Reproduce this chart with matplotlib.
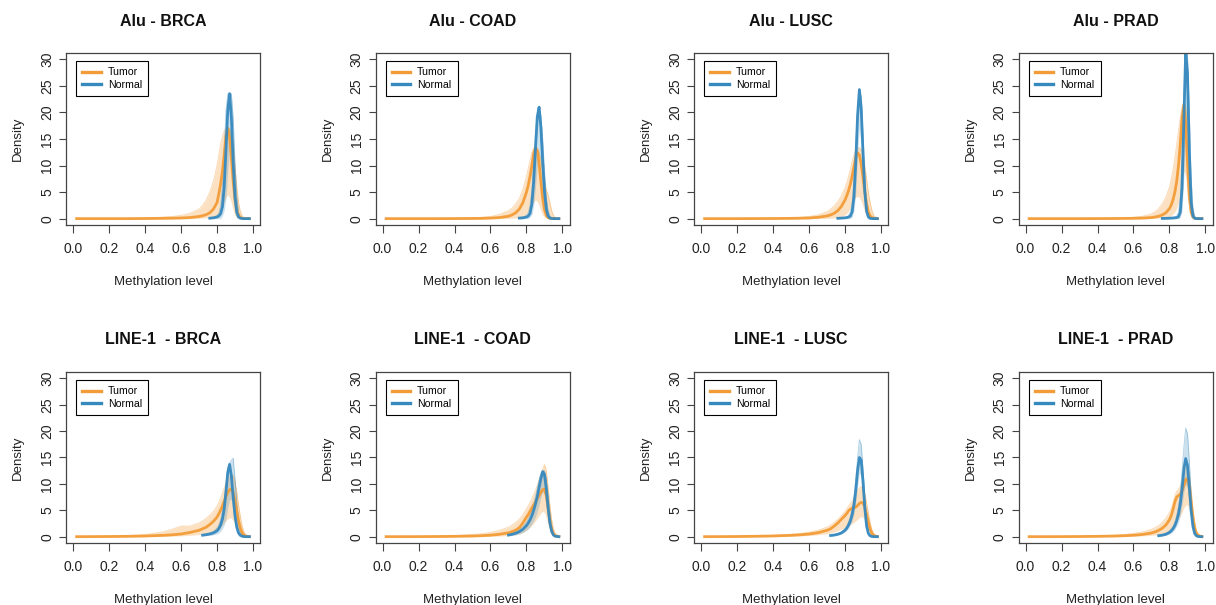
import numpy as np
import matplotlib
matplotlib.use("Agg")
import matplotlib.pyplot as plt

plt.rcParams['font.family'] = ['Liberation Sans', 'DejaVu Sans']

# ---------------- data ----------------
GRID = [0.02, 0.10, 0.20, 0.30, 0.40, 0.50, 0.55, 0.60, 0.65,
        0.70, 0.72, 0.74, 0.76, 0.78,
        0.80, 0.81, 0.82, 0.83, 0.84, 0.85, 0.86, 0.87, 0.88, 0.89,
        0.90, 0.91, 0.92, 0.93, 0.94, 0.95, 0.96, 0.98]

XTICKS = [0.0, 0.2, 0.4, 0.6, 0.8, 1.0]
XTICKLABELS = ["0.0", "0.2", "0.4", "0.6", "0.8", "1.0"]
YTICKS = [0, 5, 10, 15, 20, 25, 30]
YTICKLABELS = ["0", "5", "10", "15", "20", "25", "30"]

TITLES = ["Alu - BRCA", "Alu - COAD", "Alu - LUSC", "Alu - PRAD",
          "LINE-1  - BRCA", "LINE-1  - COAD", "LINE-1  - LUSC", "LINE-1  - PRAD"]
GROUPS = ["Tumor", "Normal"]

# ---- Alu - BRCA ----
ALU_BRCA_T = [0, 0, 0, 0, 0.02, 0.05, 0.08, 0.12, 0.2,
              0.4, 0.55, 0.75, 1.1, 1.8,
              3.0, 4.6, 6.5, 8.8, 12.0, 15.5, 17.0, 15.5, 11.5, 7.0,
              3.6, 1.6, 0.6, 0.2, 0.07, 0.02, 0.01, 0]
ALU_BRCA_T_HI = [0, 0, 0.01, 0.02, 0.1, 0.3, 0.4, 0.6, 1.0,
                 1.8, 2.5, 3.5, 5.0, 7.0,
                 10.0, 12.0, 14.0, 15.5, 16.5, 17.0, 17.2, 17.0, 16.0, 14.0,
                 10.0, 6.0, 3.0, 1.3, 0.5, 0.2, 0.1, 0]
ALU_BRCA_T_LO = [0, 0, 0, 0, 0, 0, 0, 0, 0,
                 0.05, 0.1, 0.15, 0.2, 0.3,
                 0.5, 0.8, 1.2, 2.0, 3.0, 4.0, 4.5, 4.0, 3.0, 1.5,
                 0.6, 0.2, 0.05, 0, 0, 0, 0, 0]
ALU_BRCA_N = [None] * 12 + [
              0.08, 0.15,
              0.3, 0.5, 0.9, 2.2, 6.0, 13.0, 20.5, 23.5, 19.0, 10.5,
              4.2, 1.2, 0.3, 0.08, 0.02, 0, 0, 0]
ALU_BRCA_N_HI = [None] * 12 + [
                 0.12, 0.25,
                 0.6, 1.0, 2.4, 6.0, 13.0, 20.5, 23.5, 23.8, 23.5, 19.0,
                 10.5, 4.2, 1.2, 0.3, 0.08, 0.02, 0, 0]
ALU_BRCA_N_LO = [None] * 12 + [
                 0, 0,
                 0, 0, 0, 0.5, 1.5, 4.0, 9.0, 13.0, 9.0, 3.5,
                 1.0, 0.2, 0, 0, 0, 0, 0, 0]

# ---- Alu - COAD ----
ALU_COAD_T = [0, 0, 0, 0, 0.01, 0.03, 0.05, 0.1, 0.2,
              0.45, 0.7, 1.1, 1.8, 3.0,
              5.0, 6.3, 8.0, 10.0, 12.3, 13.3, 12.8, 10.5, 7.0, 3.8,
              1.7, 0.6, 0.2, 0.06, 0.02, 0, 0, 0]
ALU_COAD_T_HI = [0, 0, 0.01, 0.02, 0.05, 0.15, 0.25, 0.4, 0.8,
                 1.5, 2.0, 2.8, 3.8, 5.5,
                 8.0, 9.5, 11.0, 12.5, 13.3, 13.5, 13.3, 12.5, 11.0, 9.0,
                 7.0, 5.5, 4.5, 3.0, 1.5, 0.6, 0.2, 0]
ALU_COAD_T_LO = [0, 0, 0, 0, 0, 0, 0, 0, 0,
                 0.05, 0.08, 0.12, 0.2, 0.3,
                 0.8, 1.2, 1.8, 2.5, 3.2, 3.5, 3.2, 2.5, 1.5, 0.7,
                 0.3, 0.1, 0, 0, 0, 0, 0, 0]
ALU_COAD_N = [None] * 12 + [
              0.1, 0.15,
              0.3, 0.5, 1.0, 2.8, 7.0, 13.3, 19.2, 21.0, 17.2, 10.7,
              5.1, 1.8, 0.5, 0.12, 0.03, 0, 0, 0]
ALU_COAD_N_HI = [None] * 12 + [
                 0.15, 0.3,
                 0.6, 1.1, 2.5, 5.5, 10.5, 16.0, 19.5, 21.0, 19.5, 15.0,
                 9.0, 4.0, 1.5, 0.5, 0.15, 0.05, 0, 0]
ALU_COAD_N_LO = [None] * 12 + [
                 0, 0,
                 0, 0, 0.3, 0.8, 2.5, 6.0, 10.0, 12.0, 10.0, 5.0,
                 1.8, 0.5, 0.1, 0, 0, 0, 0, 0]

# ---- Alu - LUSC ----
ALU_LUSC_T = [0, 0, 0, 0.01, 0.02, 0.05, 0.08, 0.12, 0.25,
              0.5, 0.7, 1.0, 1.5, 2.3,
              3.5, 4.3, 5.3, 6.5, 8.0, 9.8, 11.5, 12.4, 12.0, 10.3,
              7.8, 5.0, 2.8, 1.3, 0.5, 0.2, 0.06, 0]
ALU_LUSC_T_HI = [0, 0, 0.01, 0.03, 0.06, 0.15, 0.25, 0.4, 0.7,
                 1.3, 1.8, 2.4, 3.2, 4.3,
                 5.8, 6.8, 8.0, 9.3, 10.8, 12.0, 13.0, 13.4, 13.4, 13.0,
                 12.0, 10.0, 7.5, 5.0, 3.0, 1.5, 0.6, 0.1]
ALU_LUSC_T_LO = [0, 0, 0, 0, 0, 0, 0, 0, 0,
                 0.05, 0.08, 0.12, 0.2, 0.4,
                 0.7, 1.0, 1.4, 2.0, 2.8, 3.5, 4.0, 4.2, 4.0, 3.3,
                 2.3, 1.3, 0.6, 0.2, 0.05, 0, 0, 0]
ALU_LUSC_N = [None] * 12 + [
              0.06, 0.1,
              0.15, 0.2, 0.3, 0.5, 1.3, 4.2, 10.7, 19.4, 24.3, 20.9,
              12.4, 5.1, 1.4, 0.3, 0.05, 0.01, 0, 0]
ALU_LUSC_N_HI = [None] * 12 + [
                 0.08, 0.15,
                 0.25, 0.35, 0.6, 1.2, 3.0, 7.5, 14.0, 21.0, 24.5, 23.0,
                 16.0, 8.0, 3.0, 0.9, 0.2, 0.05, 0, 0]
ALU_LUSC_N_LO = [None] * 12 + [
                 0, 0,
                 0, 0, 0, 0, 0.3, 1.5, 5.0, 12.0, 17.0, 14.0,
                 6.0, 1.8, 0.4, 0.05, 0, 0, 0, 0]

# ---- Alu - PRAD ----
ALU_PRAD_T = [0, 0, 0, 0, 0.01, 0.02, 0.04, 0.06, 0.1,
              0.2, 0.3, 0.45, 0.7, 1.1,
              1.9, 2.6, 3.6, 5.0, 7.0, 10.0, 14.0, 19.0, 21.5, 18.0,
              10.5, 4.2, 1.2, 0.3, 0.06, 0.01, 0, 0]
ALU_PRAD_T_HI = [0, 0, 0.01, 0.02, 0.04, 0.1, 0.15, 0.25, 0.45,
                 0.9, 1.3, 1.9, 2.8, 4.0,
                 6.0, 7.5, 9.3, 11.5, 14.0, 16.5, 19.0, 21.0, 21.8, 21.0,
                 17.0, 10.0, 4.5, 1.5, 0.4, 0.1, 0.02, 0]
ALU_PRAD_T_LO = [0, 0, 0, 0, 0, 0, 0, 0, 0,
                 0.02, 0.04, 0.07, 0.12, 0.22,
                 0.4, 0.6, 0.9, 1.3, 2.0, 3.0, 4.5, 7.0, 9.0, 8.0,
                 4.5, 1.6, 0.4, 0.08, 0, 0, 0, 0]
ALU_PRAD_N = [None] * 12 + [
              0.04, 0.05,
              0.08, 0.1, 0.12, 0.15, 0.2, 0.35, 1.2, 5.9, 18.6, 31.5,
              27.4, 12.7, 3.1, 0.5, 0.06, 0.01, 0, 0]
ALU_PRAD_N_HI = [None] * 12 + [
                 0.06, 0.08,
                 0.12, 0.15, 0.2, 0.3, 0.5, 1.2, 4.0, 12.0, 24.0, 32.0,
                 31.0, 20.0, 8.0, 2.0, 0.4, 0.06, 0, 0]
ALU_PRAD_N_LO = [None] * 12 + [
                 0, 0,
                 0, 0, 0, 0, 0, 0, 0.2, 1.5, 8.0, 18.0,
                 16.0, 6.0, 1.2, 0.15, 0, 0, 0, 0]

# ---- LINE-1 - BRCA ----
L1_BRCA_T = [0, 0.01, 0.03, 0.06, 0.12, 0.25, 0.35, 0.5, 0.8,
             1.2, 1.5, 1.8, 2.3, 2.9,
             3.7, 4.3, 5.0, 5.8, 6.7, 7.6, 8.4, 8.9, 9.0, 8.3,
             6.8, 4.8, 3.0, 1.6, 0.7, 0.3, 0.1, 0.01]
L1_BRCA_T_HI = [0.02, 0.05, 0.1, 0.2, 0.4, 0.9, 1.4, 2.0, 2.0,
                2.6, 3.0, 3.5, 4.1, 4.8,
                5.8, 6.5, 7.3, 8.2, 9.2, 10.2, 11.0, 11.5, 11.8, 11.6,
                10.5, 8.5, 6.0, 3.8, 2.0, 0.9, 0.4, 0.05]
L1_BRCA_T_LO = [0, 0, 0, 0.01, 0.03, 0.06, 0.1, 0.15, 0.25,
                0.4, 0.5, 0.6, 0.8, 1.0,
                1.3, 1.5, 1.8, 2.2, 2.6, 3.0, 3.4, 3.6, 3.5, 3.0,
                2.2, 1.4, 0.7, 0.3, 0.1, 0.03, 0, 0]
L1_BRCA_N = [None] * 10 + [
             0.28, 0.38, 0.5, 0.7,
             1.1, 1.5, 2.2, 3.3, 5.2, 8.5, 12.2, 13.7, 11.5, 7.5,
             4.0, 1.8, 0.7, 0.25, 0.08, 0.02, 0, 0]
L1_BRCA_N_HI = [None] * 10 + [
                0.4, 0.55, 0.75, 1.0,
                1.6, 2.2, 3.2, 4.8, 7.0, 10.0, 13.0, 14.0, 14.5, 14.9,
                11.0, 6.5, 3.0, 1.2, 0.4, 0.1, 0.02, 0]
L1_BRCA_N_LO = [None] * 10 + [
                0.15, 0.2, 0.25, 0.35,
                0.5, 0.7, 1.0, 1.5, 2.2, 3.5, 5.5, 7.0, 7.0, 4.5,
                2.0, 0.7, 0.2, 0, 0, 0, 0, 0]

# ---- LINE-1 - COAD ----
L1_COAD_T = [0, 0, 0.01, 0.03, 0.06, 0.12, 0.18, 0.28, 0.45,
             0.75, 0.95, 1.25, 1.7, 2.6,
             3.7, 4.2, 4.8, 5.4, 6.0, 6.6, 7.2, 7.8, 8.4, 8.9,
             9.0, 7.8, 5.5, 3.0, 1.3, 0.45, 0.15, 0.02]
L1_COAD_T_HI = [0.01, 0.02, 0.05, 0.1, 0.2, 0.4, 0.55, 0.8, 1.2,
                1.8, 2.2, 2.7, 3.3, 4.2,
                5.3, 5.9, 6.5, 7.2, 8.0, 8.8, 9.7, 10.7, 11.8, 12.8,
                13.7, 12.5, 9.5, 6.0, 3.2, 1.5, 0.6, 0.1]
L1_COAD_T_LO = [0, 0, 0, 0, 0, 0.02, 0.04, 0.07, 0.12,
                0.22, 0.3, 0.4, 0.55, 0.8,
                1.2, 1.5, 1.8, 2.2, 2.6, 3.0, 3.5, 4.0, 4.5, 4.8,
                4.6, 3.6, 2.2, 1.0, 0.35, 0.1, 0.02, 0]
L1_COAD_N = [None] * 9 + [
             0.3, 0.45, 0.65, 0.95, 1.4,
             2.1, 2.6, 3.2, 4.0, 5.0, 6.2, 7.6, 9.3, 11.0, 12.3,
             11.8, 9.0, 5.5, 2.6, 1.0, 0.3, 0.08, 0]
L1_COAD_N_HI = [None] * 9 + [
                0.45, 0.65, 0.9, 1.3, 1.9,
                2.8, 3.4, 4.1, 5.0, 6.2, 7.6, 9.2, 10.8, 12.0, 12.6,
                12.5, 11.0, 8.0, 4.5, 2.0, 0.7, 0.2, 0]
L1_COAD_N_LO = [None] * 9 + [
                0.15, 0.22, 0.32, 0.5, 0.8,
                1.2, 1.5, 1.9, 2.4, 3.0, 3.8, 4.8, 6.0, 7.5, 8.5,
                8.0, 5.5, 3.0, 1.2, 0.4, 0.1, 0.02, 0]

# ---- LINE-1 - LUSC ----
L1_LUSC_T = [0, 0.01, 0.03, 0.07, 0.13, 0.25, 0.35, 0.5, 0.75,
             1.2, 1.5, 2.0, 2.6, 3.3,
             4.0, 4.4, 4.9, 5.2, 5.4, 5.5, 5.6, 5.9, 6.3, 6.5,
             6.4, 5.6, 4.2, 2.7, 1.4, 0.6, 0.2, 0.02]
L1_LUSC_T_HI = [0.01, 0.03, 0.07, 0.15, 0.25, 0.45, 0.6, 0.85, 1.2,
                1.8, 2.2, 2.7, 3.3, 4.0,
                4.8, 5.3, 5.8, 6.3, 6.8, 7.3, 7.9, 8.6, 9.2, 9.5,
                9.2, 8.2, 6.5, 4.5, 2.6, 1.3, 0.6, 0.1]
L1_LUSC_T_LO = [0, 0, 0, 0.02, 0.05, 0.1, 0.15, 0.22, 0.35,
                0.55, 0.7, 0.9, 1.1, 1.4,
                1.7, 1.9, 2.1, 2.3, 2.5, 2.7, 3.0, 3.3, 3.6, 3.8,
                3.7, 3.1, 2.2, 1.3, 0.6, 0.2, 0.05, 0]
L1_LUSC_N = [None] * 10 + [
             0.22, 0.3, 0.45, 0.7,
             1.2, 1.6, 2.2, 3.0, 4.2, 6.0, 8.8, 12.5, 15.0, 14.5,
             10.5, 5.5, 2.0, 0.6, 0.15, 0.03, 0, 0]
L1_LUSC_N_HI = [None] * 10 + [
                0.3, 0.42, 0.6, 0.9,
                1.5, 2.0, 2.8, 3.8, 5.3, 7.5, 11.0, 15.0, 18.4, 17.5,
                13.0, 7.5, 3.0, 1.0, 0.3, 0.06, 0, 0]
L1_LUSC_N_LO = [None] * 10 + [
                0.15, 0.2, 0.3, 0.5,
                0.9, 1.2, 1.6, 2.2, 3.0, 4.3, 6.5, 9.5, 12.0, 11.5,
                8.0, 4.0, 1.3, 0.3, 0.05, 0, 0, 0]

# ---- LINE-1 - PRAD ----
L1_PRAD_T = [0, 0, 0.01, 0.03, 0.06, 0.12, 0.18, 0.27, 0.42,
             0.7, 0.9, 1.2, 1.6, 2.2,
             3.2, 4.0, 5.2, 6.6, 7.5, 7.8, 8.0, 8.7, 9.8, 10.8,
             11.0, 9.5, 6.5, 3.5, 1.5, 0.6, 0.2, 0.02]
L1_PRAD_T_HI = [0.01, 0.02, 0.04, 0.08, 0.15, 0.3, 0.42, 0.6, 0.9,
                1.4, 1.7, 2.1, 2.7, 3.5,
                4.6, 5.4, 6.5, 7.8, 8.6, 9.0, 9.5, 10.5, 11.8, 13.0,
                13.2, 12.0, 9.0, 5.5, 2.8, 1.2, 0.5, 0.08]
L1_PRAD_T_LO = [0, 0, 0, 0, 0.02, 0.04, 0.06, 0.1, 0.15,
                0.25, 0.32, 0.42, 0.55, 0.75,
                1.1, 1.4, 1.8, 2.4, 3.0, 3.5, 4.0, 4.6, 5.4, 6.0,
                6.0, 5.0, 3.4, 1.8, 0.7, 0.25, 0.06, 0]
L1_PRAD_N = [None] * 11 + [
             0.18, 0.28, 0.45,
             0.8, 1.1, 1.5, 2.1, 3.0, 4.3, 6.2, 9.0, 12.8, 14.8,
             13.5, 9.5, 5.0, 2.0, 0.6, 0.15, 0.03, 0]
L1_PRAD_N_HI = [None] * 11 + [
                0.26, 0.4, 0.65,
                1.1, 1.5, 2.0, 2.8, 4.0, 5.8, 8.5, 12.5, 17.0, 20.6,
                19.5, 14.5, 8.0, 3.5, 1.2, 0.35, 0.08, 0]
L1_PRAD_N_LO = [None] * 11 + [
                0.1, 0.16, 0.26,
                0.5, 0.7, 1.0, 1.4, 2.0, 2.8, 4.0, 6.0, 8.5, 10.0,
                9.0, 6.0, 2.8, 1.0, 0.25, 0.05, 0, 0]

PANELS = [
    (ALU_BRCA_T, ALU_BRCA_T_LO, ALU_BRCA_T_HI, ALU_BRCA_N, ALU_BRCA_N_LO, ALU_BRCA_N_HI),
    (ALU_COAD_T, ALU_COAD_T_LO, ALU_COAD_T_HI, ALU_COAD_N, ALU_COAD_N_LO, ALU_COAD_N_HI),
    (ALU_LUSC_T, ALU_LUSC_T_LO, ALU_LUSC_T_HI, ALU_LUSC_N, ALU_LUSC_N_LO, ALU_LUSC_N_HI),
    (ALU_PRAD_T, ALU_PRAD_T_LO, ALU_PRAD_T_HI, ALU_PRAD_N, ALU_PRAD_N_LO, ALU_PRAD_N_HI),
    (L1_BRCA_T, L1_BRCA_T_LO, L1_BRCA_T_HI, L1_BRCA_N, L1_BRCA_N_LO, L1_BRCA_N_HI),
    (L1_COAD_T, L1_COAD_T_LO, L1_COAD_T_HI, L1_COAD_N, L1_COAD_N_LO, L1_COAD_N_HI),
    (L1_LUSC_T, L1_LUSC_T_LO, L1_LUSC_T_HI, L1_LUSC_N, L1_LUSC_N_LO, L1_LUSC_N_HI),
    (L1_PRAD_T, L1_PRAD_T_LO, L1_PRAD_T_HI, L1_PRAD_N, L1_PRAD_N_LO, L1_PRAD_N_HI),
]

# ---------------- style / layout ----------------
ORANGE = '#F39C37'
BLUE = '#3689BF'
AXC = '#444444'
W, H = 1216, 605
COL_LEFT = [66, 375.5, 694, 1018.5]
BOX_W = 194
ROW_TOP = [53, 372]
ROW_BOT = [225, 543]

fig = plt.figure(figsize=(W / 100, H / 100), dpi=100)
x = np.array(GRID, dtype=float)

for i, (t, tlo, thi, n, nlo, nhi) in enumerate(PANELS):
    r, c = divmod(i, 4)
    left = COL_LEFT[c]
    top, bot = ROW_TOP[r], ROW_BOT[r]
    ax = fig.add_axes([left / W, 1 - bot / H, BOX_W / W, (bot - top) / H])

    t = np.array(t, dtype=float)
    tlo = np.array(tlo, dtype=float)
    thi = np.array(thi, dtype=float)
    n = np.array(n, dtype=float)
    nlo = np.array(nlo, dtype=float)
    nhi = np.array(nhi, dtype=float)

    # faint clouds of individual sample curves
    ax.fill_between(x, tlo, thi, color=ORANGE, alpha=0.3, lw=0)
    ax.plot(x, thi, color=ORANGE, lw=0.6, alpha=0.4)
    ax.fill_between(x, nlo, nhi, where=~np.isnan(n), color=BLUE, alpha=0.25, lw=0)
    ax.plot(x, nhi, color=BLUE, lw=0.6, alpha=0.4)
    # main curves
    ax.plot(x, t, color=ORANGE, lw=2.0, alpha=0.95, label=GROUPS[0],
            solid_joinstyle='round')
    ax.plot(x, n, color=BLUE, lw=2.0, alpha=0.95, label=GROUPS[1],
            solid_joinstyle='round')

    ax.set_xlim(-0.039, 1.039)
    ax.set_ylim(-1.2, 31.2)
    ax.set_xticks(XTICKS)
    ax.set_xticklabels(XTICKLABELS)
    ax.set_yticks(YTICKS)
    ax.set_yticklabels(YTICKLABELS)
    ax.tick_params(axis='both', direction='out', length=5.4, width=0.8,
                   color=AXC, labelsize=10, labelcolor='#222222')
    ax.tick_params(axis='x', pad=6.5)
    ax.tick_params(axis='y', pad=3.2, labelrotation=90)
    for lab in ax.get_yticklabels():
        lab.set_va('center')
    for sp in ax.spines.values():
        sp.set_color(AXC)
        sp.set_linewidth(0.9)

    leg = ax.legend(loc='upper left', bbox_to_anchor=(10 / BOX_W, 1 - 8 / (bot - top)),
                    borderaxespad=0, fontsize=7.6, frameon=True, fancybox=False,
                    edgecolor='black', framealpha=1, borderpad=0.6,
                    handlelength=1.75, handletextpad=0.65, labelspacing=0.25)
    leg.get_frame().set_linewidth(0.8)
    for lh in leg.get_lines():
        lh.set_linewidth(2.4)
        lh.set_alpha(1)

    cx = (left + BOX_W / 2) / W
    fig.text(cx, 1 - (top - 32) / H, TITLES[i], ha='center', va='center',
             fontsize=11.5, fontweight='bold', color='#111111')
    fig.text(cx, 1 - (bot + 57) / H, "Methylation level", ha='center', va='center',
             fontsize=9.5, color='#222222')
    fig.text((left - 48) / W, 1 - (top + bot) / 2 / H, "Density", ha='center',
             va='center', rotation=90, fontsize=9.5, color='#222222')

fig.savefig("out.png", dpi=100)
